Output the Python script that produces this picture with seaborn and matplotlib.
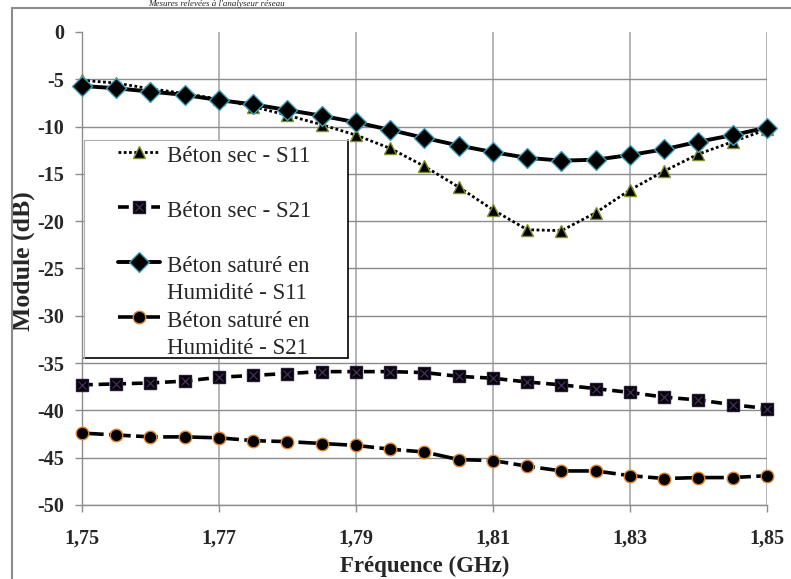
import numpy as np
import pandas as pd
import matplotlib
matplotlib.use("Agg")
import matplotlib.pyplot as plt
import seaborn as sns
from matplotlib.patches import Rectangle
from matplotlib.lines import Line2D
from matplotlib.legend_handler import HandlerLine2D
from matplotlib.ticker import FixedLocator, FixedFormatter

# Frequency points (GHz)
freq = [1.750, 1.755, 1.760, 1.765, 1.770, 1.775, 1.780, 1.785, 1.790, 1.795,
        1.800, 1.805, 1.810, 1.815, 1.820, 1.825, 1.830, 1.835, 1.840, 1.845, 1.850]

# Measured modules (dB)
s11_sec = [-5.1, -5.4, -6.0, -6.5, -7.1, -7.9, -8.8, -9.8, -10.9, -12.3,
           -14.2, -16.4, -18.8, -20.9, -21.0, -19.1, -16.7, -14.7, -12.9, -11.6, -10.3]
s21_sec = [-37.3, -37.2, -37.1, -36.9, -36.5, -36.3, -36.1, -35.9, -35.9, -35.9,
           -36.0, -36.4, -36.6, -37.0, -37.3, -37.7, -38.1, -38.6, -38.9, -39.4, -39.8]
s11_sat = [-5.7, -5.95, -6.3, -6.65, -7.2, -7.65, -8.25, -8.85, -9.55, -10.35,
           -11.2, -12.0, -12.7, -13.3, -13.6, -13.5, -13.0, -12.4, -11.6, -10.9, -10.1]
s21_sat = [-42.4, -42.6, -42.8, -42.8, -42.9, -43.2, -43.3, -43.5, -43.7, -44.1,
           -44.4, -45.2, -45.3, -45.9, -46.4, -46.4, -46.9, -47.2, -47.1, -47.1, -46.9]

series_names = ["Béton sec - S11", "Béton sec - S21",
                "Béton saturé en\nHumidité - S11", "Béton saturé en\nHumidité - S21"]

x_ticks = [1.75, 1.77, 1.79, 1.81, 1.83, 1.85]
x_tick_labels = ["1,75", "1,77", "1,79", "1,81", "1,83", "1,85"]
y_ticks = [-50, -45, -40, -35, -30, -25, -20, -15, -10, -5, 0]
y_tick_labels = ["-50", "-45", "-40", "-35", "-30", "-25", "-20", "-15", "-10", "-5", "0"]

x_label = "Fréquence (GHz)"
y_label = "Module (dB)"
caption = "Mesures relevées à l'analyseur réseau"

df = pd.DataFrame({
    "freq": freq * 4,
    "module": s11_sec + s21_sec + s11_sat + s21_sat,
    "serie": [n for n in series_names for _ in freq],
})

sns.set_theme(style="white")
plt.rcParams["font.family"] = ["Liberation Serif", "DejaVu Serif"]
plt.rcParams["axes.unicode_minus"] = False

W, H = 791, 579
fig = plt.figure(figsize=(W / 100, H / 100), dpi=100)
ax = fig.add_axes([82 / W, 1 - 505 / H, 685 / W, 473 / H])

styles = {
    series_names[0]: dict(ls=(0, (1.0, 0.9)), lw=2.0, marker="^", ms=9,
                          mfc="black", mec="#7f8f2f", mew=1.0),
    series_names[1]: dict(ls=(0, (3.0, 1.6)), lw=2.6, marker="s", ms=8,
                          mfc="black", mec="#2a1a3a", mew=1.0),
    series_names[2]: dict(ls="-", lw=2.8, marker="D", ms=10.5,
                          mfc="black", mec="#3c9fb8", mew=1.0),
    series_names[3]: dict(ls=(0, (6.0, 1.5)), lw=2.6, marker="o", ms=9,
                          mfc="black", mec="#e0802a", mew=1.0),
}

handles = []
for name in series_names:
    sub = df[df["serie"] == name]
    st = styles[name]
    n_before = len(ax.lines)
    sns.lineplot(data=sub, x="freq", y="module", ax=ax, color="black",
                 linestyle=st["ls"], linewidth=st["lw"], marker=st["marker"],
                 markersize=st["ms"], markerfacecolor=st["mfc"],
                 markeredgecolor=st["mec"], markeredgewidth=st["mew"],
                 errorbar=None, sort=False, legend=False, zorder=4)
    line = ax.lines[n_before]
    line.set_clip_on(False)
    if name == series_names[1]:
        # dark purple cross drawn inside each square marker
        n2 = len(ax.lines)
        sns.lineplot(data=sub, x="freq", y="module", ax=ax, color="#4a2f66",
                     linestyle="none", marker="x", markersize=6,
                     markeredgecolor="#4a2f66", markeredgewidth=0.9,
                     errorbar=None, sort=False, legend=False, zorder=5)
        cross = ax.lines[n2]
        cross.set_clip_on(False)
        handles.append((line, cross))
    else:
        handles.append(line)

ax.set_xlim(1.75, 1.85)
ax.set_ylim(-50, 0)
ax.xaxis.set_major_locator(FixedLocator(x_ticks))
ax.xaxis.set_major_formatter(FixedFormatter(x_tick_labels))
ax.yaxis.set_major_locator(FixedLocator(y_ticks))
ax.yaxis.set_major_formatter(FixedFormatter(y_tick_labels))

ax.grid(axis="y", color="#8c8c8c", lw=1.0)
ax.grid(axis="x", color="#a8a8a8", lw=1.2)
ax.set_axisbelow(True)
ax.get_ygridlines()[-1].set_visible(False)

for s in ["top", "right"]:
    ax.spines[s].set_visible(False)
for s in ["left", "bottom"]:
    ax.spines[s].set_color("#8c8c8c")
    ax.spines[s].set_linewidth(1.0)

ax.tick_params(axis="both", which="major", direction="out", length=5,
               width=1.0, color="#8c8c8c", labelsize=14.5)
ax.tick_params(axis="x", pad=12)
ax.tick_params(axis="y", pad=8)
ax.tick_params(axis="x", bottom=True)
ax.tick_params(axis="y", left=True)
for lab in ax.get_xticklabels() + ax.get_yticklabels():
    lab.set_fontweight("bold")

ax.set_xlabel(x_label, fontsize=16.5, fontweight="bold", labelpad=5)
ax.set_ylabel(y_label, fontsize=18.5, fontweight="bold")
ax.yaxis.set_label_coords((35 - 82) / 685, (505 - 261) / 473)

# Legend box
fig_tr = fig.transFigure
box = Rectangle((84 / W, 1 - 358 / H), (348 - 84) / W, (358 - 140) / H,
                transform=fig_tr, facecolor="white", edgecolor="none",
                zorder=6, clip_on=False)
ax.add_patch(box)
ax.add_line(Line2D([348 / W, 348 / W], [1 - 140 / H, 1 - 358 / H], transform=fig_tr,
                   color="black", lw=1.2, zorder=7, clip_on=False))
ax.add_line(Line2D([84 / W, 348 / W], [1 - 358 / H, 1 - 358 / H], transform=fig_tr,
                   color="black", lw=1.2, zorder=7, clip_on=False))
ax.add_line(Line2D([84 / W, 348 / W], [1 - 140 / H, 1 - 140 / H], transform=fig_tr,
                   color="#b0b0b0", lw=0.8, zorder=7, clip_on=False))
ax.add_line(Line2D([84 / W, 84 / W], [1 - 140 / H, 1 - 358 / H], transform=fig_tr,
                   color="#b0b0b0", lw=0.8, zorder=7, clip_on=False))

leg_fs = 16.5
leg_linespacing = 1.35


class RaisedLine(HandlerLine2D):
    """Line handler that puts the sample level with the first text row."""

    def __init__(self, dy, **kw):
        super().__init__(**kw)
        self.dy = dy

    def create_artists(self, legend, orig_handle, xdescent, ydescent,
                       width, height, fontsize, trans):
        arts = super().create_artists(legend, orig_handle, xdescent, ydescent,
                                      width, height, fontsize, trans)
        for a in arts:
            a.set_ydata(np.asarray(a.get_ydata(), float) + self.dy)
        return arts


leg_labels = [series_names[0] + "\n ", series_names[1] + "\n ",
              series_names[2], series_names[3]]
leg = ax.legend(handles, leg_labels, loc="upper left",
                bbox_to_anchor=(118 / W, 1 - 146 / H), bbox_transform=fig_tr,
                frameon=False, fontsize=leg_fs, borderpad=0, borderaxespad=0,
                labelspacing=0.33, handlelength=1.85, handletextpad=0.3,
                handler_map={Line2D: RaisedLine(12.8)})
for t in leg.get_texts():
    t.set_linespacing(leg_linespacing)
leg.set_zorder(8)

# Outer chart frame
fig.add_artist(Rectangle((12 / W, -0.1), 1.2, 1 - 8 / H + 0.1, transform=fig_tr,
                         fill=False, edgecolor="#8c8c8c", lw=1.5))

# Caption line above the chart
fig.text(285 / W, 1 - 6 / H, caption, ha="right", va="baseline",
         fontsize=6.5, style="italic")

fig.savefig("out.png", dpi=100)
